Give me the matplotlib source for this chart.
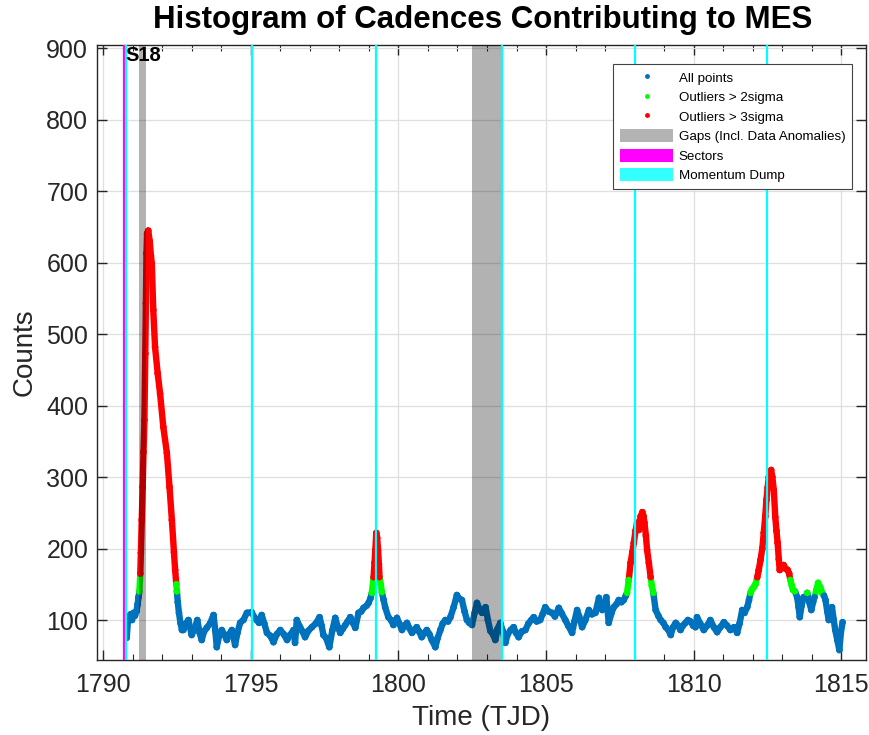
import matplotlib
matplotlib.use("Agg")
import matplotlib.pyplot as plt
import numpy as np
from matplotlib.collections import LineCollection
from matplotlib.lines import Line2D
from matplotlib.patches import Patch
from matplotlib.ticker import MultipleLocator

# ---------------- data ----------------
time_tjd = [
    1790.80, 1790.84, 1790.88, 1790.93, 1790.98, 1791.03, 1791.08, 1791.13, 1791.17, 1791.20,
    1791.23, 1791.26, 1791.28, 1791.31, 1791.34, 1791.37, 1791.40, 1791.43, 1791.45, 1791.47,
    1791.49, 1791.53, 1791.58, 1791.62, 1791.65, 1791.70, 1791.76, 1791.85, 1791.93, 1792.04,
    1792.16, 1792.25, 1792.33, 1792.40, 1792.44, 1792.48, 1792.50, 1792.53, 1792.57, 1792.62,
    1792.67, 1792.72, 1792.80, 1792.89, 1793.00, 1793.10, 1793.19, 1793.27, 1793.34, 1793.42,
    1793.51, 1793.62, 1793.74, 1793.80, 1793.85, 1793.93, 1794.02, 1794.10, 1794.19, 1794.27,
    1794.36, 1794.47, 1794.55, 1794.64, 1794.75, 1794.87, 1795.03, 1795.12, 1795.20, 1795.28,
    1795.37, 1795.46, 1795.55, 1795.66, 1795.77, 1795.88, 1796.00, 1796.12, 1796.23, 1796.33,
    1796.45, 1796.50, 1796.56, 1796.67, 1796.75, 1796.84, 1796.95, 1797.07, 1797.20, 1797.33,
    1797.40, 1797.46, 1797.55, 1797.66, 1797.76, 1797.86, 1797.95, 1798.03, 1798.12, 1798.20,
    1798.28, 1798.37, 1798.46, 1798.54, 1798.65, 1798.74, 1798.82, 1798.92, 1798.99, 1799.05,
    1799.10, 1799.16, 1799.19, 1799.22, 1799.25, 1799.28, 1799.31, 1799.34, 1799.36, 1799.40,
    1799.44, 1799.50, 1799.55, 1799.66, 1799.75, 1799.83, 1799.95, 1800.03, 1800.12, 1800.20,
    1800.29, 1800.38, 1800.46, 1800.54, 1800.62, 1800.70, 1800.79, 1800.88, 1800.96, 1801.05,
    1801.13, 1801.25, 1801.33, 1801.42, 1801.50, 1801.59, 1801.68, 1801.76, 1801.87, 1801.98,
    1802.06, 1802.15, 1802.24, 1802.32, 1802.40, 1802.49, 1802.58, 1802.66, 1802.75, 1802.83,
    1802.95, 1803.03, 1803.11, 1803.20, 1803.28, 1803.36, 1803.45, 1803.53, 1803.62, 1803.70,
    1803.80, 1803.90, 1803.98, 1804.07, 1804.18, 1804.30, 1804.40, 1804.50, 1804.58, 1804.68,
    1804.80, 1804.88, 1804.97, 1805.08, 1805.20, 1805.30, 1805.43, 1805.52, 1805.65, 1805.75,
    1805.88, 1805.96, 1806.05, 1806.12, 1806.22, 1806.33, 1806.45, 1806.55, 1806.67, 1806.79,
    1806.90, 1806.98, 1807.04, 1807.12, 1807.20, 1807.29, 1807.38, 1807.46, 1807.55, 1807.63,
    1807.70, 1807.74, 1807.80, 1807.86, 1807.92, 1807.97, 1808.03, 1808.08, 1808.14, 1808.20,
    1808.26, 1808.30, 1808.33, 1808.38, 1808.42, 1808.48, 1808.54, 1808.58, 1808.63, 1808.71,
    1808.80, 1808.88, 1808.97, 1809.05, 1809.14, 1809.22, 1809.30, 1809.39, 1809.47, 1809.55,
    1809.63, 1809.72, 1809.80, 1809.89, 1809.98, 1810.06, 1810.11, 1810.22, 1810.34, 1810.45,
    1810.56, 1810.68, 1810.79, 1810.90, 1811.02, 1811.13, 1811.24, 1811.36, 1811.47, 1811.55,
    1811.64, 1811.72, 1811.81, 1811.87, 1811.92, 1811.97, 1812.03, 1812.09, 1812.15, 1812.20,
    1812.26, 1812.32, 1812.37, 1812.42, 1812.46, 1812.50, 1812.54, 1812.58, 1812.62, 1812.66,
    1812.71, 1812.76, 1812.80, 1812.84, 1812.88, 1812.91, 1812.97, 1813.04, 1813.11, 1813.18,
    1813.23, 1813.27, 1813.32, 1813.36, 1813.43, 1813.50, 1813.55, 1813.59, 1813.65, 1813.72,
    1813.78, 1813.84, 1813.91, 1813.98, 1814.04, 1814.09, 1814.15, 1814.21, 1814.28, 1814.35,
    1814.41, 1814.46, 1814.52, 1814.57, 1814.63, 1814.68, 1814.74, 1814.79, 1814.86, 1814.93,
    1814.98, 1815.04,
]
counts = [
    75, 98, 104, 108, 100, 110, 106, 112, 122, 132,
    140, 165, 194, 240, 286, 335, 380, 473, 543, 613,
    641, 645, 630, 610, 599, 534, 482, 445, 417, 370,
    334, 286, 240, 195, 170, 150, 140, 125, 110, 96,
    86, 86, 95, 100, 79, 88, 100, 82, 72, 84,
    89, 95, 107, 85, 62, 78, 86, 80, 72, 80,
    86, 65, 82, 96, 100, 110, 111, 104, 100, 96,
    107, 95, 82, 78, 69, 80, 86, 80, 72, 79,
    86, 68, 100, 90, 84, 76, 85, 90, 95, 104,
    92, 79, 75, 62, 85, 103, 90, 82, 88, 93,
    98, 104, 96, 89, 110, 112, 117, 120, 124, 130,
    138, 160, 180, 198, 222, 215, 198, 178, 160, 150,
    139, 128, 118, 104, 100, 93, 103, 95, 86, 92,
    96, 88, 82, 86, 90, 84, 76, 82, 86, 80,
    72, 62, 75, 86, 95, 100, 98, 104, 118, 135,
    130, 128, 112, 100, 96, 93, 110, 124, 115, 110,
    118, 100, 85, 80, 72, 88, 96, 85, 68, 80,
    86, 90, 82, 76, 84, 86, 95, 100, 104, 98,
    100, 108, 118, 112, 110, 105, 117, 110, 100, 92,
    82, 98, 114, 105, 90, 100, 114, 108, 110, 131,
    114, 120, 132, 96, 108, 118, 122, 128, 125, 128,
    134, 138, 156, 180, 195, 208, 225, 236, 226, 245,
    251, 245, 236, 218, 198, 180, 160, 148, 138, 114,
    106, 100, 96, 90, 86, 79, 90, 96, 92, 86,
    92, 96, 100, 98, 92, 90, 104, 95, 86, 92,
    100, 90, 83, 90, 97, 92, 86, 90, 82, 95,
    114, 110, 118, 128, 138, 143, 146, 150, 160, 170,
    184, 200, 222, 245, 268, 285, 300, 308, 310, 300,
    282, 244, 225, 208, 185, 170, 175, 177, 172, 170,
    165, 156, 148, 142, 140, 132, 118, 104, 120, 132,
    130, 138, 125, 114, 125, 132, 142, 152, 146, 138,
    134, 128, 112, 100, 110, 118, 100, 86, 72, 58,
    82, 97,
]
sigma2_level = 137
sigma3_level = 157
gaps = [(1791.22, 1791.46), (1802.50, 1803.48)]
sectors = [1790.71]
sector_labels = ["S18"]
momentum_dumps = [1790.77, 1795.05, 1799.25, 1803.52, 1808.02, 1812.49]

# ---------------- style ----------------
plt.rcParams['font.family'] = ['Liberation Sans', 'DejaVu Sans']
BLUE = '#0072BD'
GREEN = '#00FF00'
RED = '#FF0000'
DARK = '#262626'

fig = plt.figure(figsize=(8.7, 7.35), dpi=100)
ax = fig.add_axes([0.111, 0.102, 0.884, 0.837])

t = np.array(time_tjd)
c = np.array(counts, dtype=float)

def cls_color(v):
    if v >= sigma3_level:
        return RED
    if v >= sigma2_level:
        return GREEN
    return BLUE

pts = np.column_stack([t, c])
segs = np.stack([pts[:-1], pts[1:]], axis=1)
seg_cols = [cls_color(0.5 * (a + b)) for a, b in zip(c[:-1], c[1:])]
lc = LineCollection(segs, colors=seg_cols, linewidths=4.6, capstyle='round',
                    joinstyle='round', zorder=3)
ax.add_collection(lc)
ax.scatter(t, c, s=22, c=[cls_color(v) for v in c], linewidths=0, zorder=3.5)

for g0, g1 in gaps:
    ax.axvspan(g0, g1, color='black', alpha=0.3, lw=0, zorder=4)
for s in sectors:
    ax.axvline(s, color='#FF00FF', lw=1.6, zorder=5)
for m in momentum_dumps:
    ax.axvline(m, color='#00FFFF', lw=1.6, zorder=5)
for s, lab in zip(sectors, sector_labels):
    ax.text(s + 0.04, 904, lab, fontsize=14.5, fontweight='bold', va='top', ha='left', zorder=6)

ax.set_xlim(1789.78, 1815.82)
ax.set_ylim(44, 905)
ax.set_xticks([1790, 1795, 1800, 1805, 1810, 1815])
ax.set_yticks([100, 200, 300, 400, 500, 600, 700, 800, 900])
ax.xaxis.set_minor_locator(MultipleLocator(1))
ax.tick_params(which='both', direction='in', top=True, right=True,
               colors=DARK, labelsize=18)
ax.tick_params(axis='x', which='major', pad=9)
ax.tick_params(axis='y', which='major', pad=6)
ax.tick_params(which='major', length=7, width=1)
ax.tick_params(which='minor', length=4, width=0.8)
ax.tick_params(axis='y', which='minor', left=False, right=False)
ax.grid(True, which='major', color='#DFDFDF', lw=0.9, zorder=0)
ax.set_axisbelow(True)
for sp in ax.spines.values():
    sp.set_color(DARK)
    sp.set_linewidth(1.0)

ax.set_xlabel('Time (TJD)', fontsize=20, color=DARK, labelpad=6)
ax.set_ylabel('Counts', fontsize=20, color=DARK, labelpad=6)
fig.suptitle('Histogram of Cadences Contributing to MES', fontsize=22.5, fontweight='bold',
             y=0.993, va='top', x=0.555)

handles = [
    Line2D([], [], ls='none', marker='.', color=BLUE, markersize=5),
    Line2D([], [], ls='none', marker='.', color=GREEN, markersize=5),
    Line2D([], [], ls='none', marker='.', color=RED, markersize=5),
    Patch(facecolor='#B3B3B3', edgecolor='none'),
    Patch(facecolor='#FF00FF', edgecolor='none'),
    Patch(facecolor='#33FFFF', edgecolor='none'),
]
labels = ['All points', 'Outliers > 2sigma', 'Outliers > 3sigma',
          'Gaps (Incl. Data Anomalies)', 'Sectors', 'Momentum Dump']
leg = ax.legend(handles, labels, loc='upper left', bbox_to_anchor=(0.672, 0.969),
                fontsize=9.6, handlelength=4.0, handleheight=1.1, handletextpad=0.4,
                labelspacing=0.42, borderpad=0.5, borderaxespad=0, fancybox=False,
                framealpha=1, edgecolor='#444444')
leg.get_frame().set_linewidth(0.8)
leg.set_zorder(10)

fig.savefig('out.png', dpi=100)
